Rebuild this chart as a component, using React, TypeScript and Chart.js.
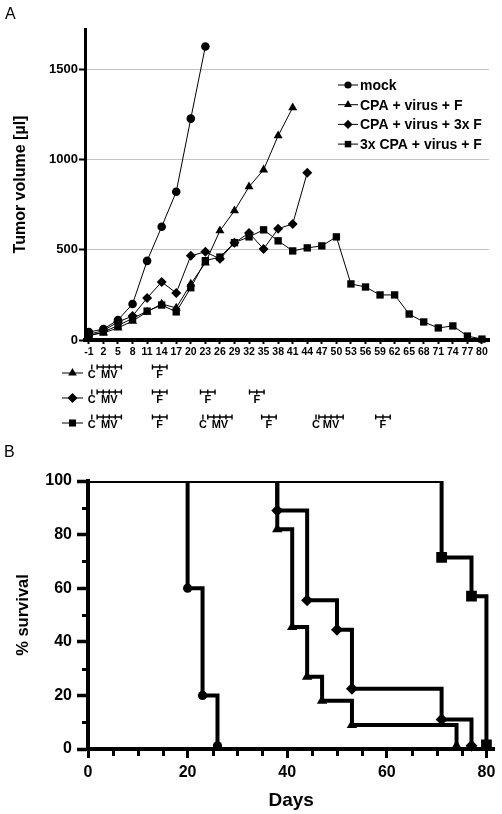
import React, { useEffect, useRef } from 'react';
import { Chart, registerables } from 'chart.js';

Chart.register(...registerables);

const FONT = "'Liberation Sans', Arial, Helvetica, sans-serif";

// ---------- Panel A: tumor volume ----------
const xTickDaysA = [-1, 2, 5, 8, 11, 14, 17, 20, 23, 26, 29, 32, 35, 38, 41, 44, 47, 50, 53, 56, 59, 62, 65, 68, 71, 74, 77, 80];
const yTicksA = [0, 500, 1000, 1500];

const seriesLabels = ['mock', 'CPA + virus + F', 'CPA + virus + 3x F', '3x CPA + virus + F'];
const seriesStyles = ['circle', 'triangle', 'rectRot', 'rect'];

const mockDays = [-1, 2, 5, 8, 11, 14, 17, 20, 23];
const mockVol = [44, 61, 111, 200, 439, 628, 822, 1228, 1628];

const cpaFDays = [-1, 2, 5, 8, 11, 14, 17, 20, 23, 26, 29, 32, 35, 38, 41];
const cpaFVol = [28, 39, 67, 105, 156, 200, 178, 311, 428, 606, 717, 850, 944, 1133, 1289];

const cpa3FDays = [-1, 2, 5, 8, 11, 14, 17, 20, 23, 26, 29, 32, 35, 38, 41, 44];
const cpa3FVol = [32, 52, 100, 133, 233, 322, 261, 467, 489, 450, 539, 594, 505, 617, 644, 928];

const cpa3xDays = [-1, 2, 5, 8, 11, 14, 17, 20, 23, 26, 29, 32, 35, 38, 41, 44, 47, 50, 53, 56, 59, 62, 65, 68, 71, 74, 77, 80];
const cpa3xVol = [22, 45, 80, 120, 160, 194, 156, 290, 440, 460, 540, 572, 611, 550, 494, 511, 522, 572, 311, 294, 250, 250, 144, 100, 67, 78, 22, 5];

// treatment schedule rows (for series 2, 3, 4), days on the panel A axis
const scheduleC = [[-0.4], [-0.4], [-0.4, 22.5, 45.8]];
const scheduleMV = [[0.7], [0.7], [0.7, 23.5, 46.4]];
const scheduleF = [[13.6], [13.6, 23.5, 33.6], [13.6, 36.1, 59.6]];
const mvSpanDays = 5;
const mvDoses = 5;
const fSpanDays = 3;
const fDoses = 3;

// ---------- Panel B: survival ----------
const survXTicks = [0, 5, 10, 15, 20, 25, 30, 35, 40, 45, 50, 55, 60, 65, 70, 75, 80];
const survXLabels = [0, 20, 40, 60, 80];
const survYTicks = [0, 10, 20, 30, 40, 50, 60, 70, 80, 90, 100];
const survYLabels = [0, 20, 40, 60, 80, 100];

const mockSurvDays = [0, 20, 23, 26];
const mockSurv = [100, 60, 20, 1.2];
const cpaFSurvDays = [0, 38, 41, 44, 47, 53, 74];
const cpaFSurv = [100, 82, 45.5, 27, 18, 9, 1.2];
const cpa3FSurvDays = [0, 38, 44, 50, 53, 71, 77];
const cpa3FSurv = [100, 89, 55.5, 44.5, 22.5, 11, 1.2];
const cpa3xSurvDays = [0, 71, 77, 80];
const cpa3xSurv = [100, 71.5, 57, 1.5];

function drawMarker(ctx: any, style: string, x: number, y: number, r: number) {
  ctx.beginPath();
  if (style === 'circle') {
    ctx.arc(x, y, r, 0, Math.PI * 2);
  } else if (style === 'triangle') {
    ctx.moveTo(x, y - r);
    ctx.lineTo(x + r * 0.866, y + r * 0.5);
    ctx.lineTo(x - r * 0.866, y + r * 0.5);
    ctx.closePath();
  } else if (style === 'rectRot') {
    ctx.moveTo(x, y - r);
    ctx.lineTo(x + r, y);
    ctx.lineTo(x, y + r);
    ctx.lineTo(x - r, y);
    ctx.closePath();
  } else {
    const s = r * Math.SQRT1_2;
    ctx.rect(x - s, y - s, 2 * s, 2 * s);
  }
  ctx.fill();
}

const panelAPlugin = {
  id: 'panelAExtras',
  afterDraw(chart: any) {
    const ctx = chart.ctx;
    const xs = chart.scales.x;
    ctx.save();
    ctx.fillStyle = '#000';
    ctx.strokeStyle = '#000';
    // legend
    const legR = [3.6, 4.6, 4.6, 4.6];
    chart.data.datasets.forEach((ds: any, i: number) => {
      const y = 85 + i * 19.7;
      ctx.lineWidth = 1;
      ctx.beginPath();
      ctx.moveTo(338, y);
      ctx.lineTo(358, y);
      ctx.stroke();
      drawMarker(ctx, seriesStyles[i], 348, y, legR[i]);
      ctx.font = `bold 14px ${FONT}`;
      ctx.textBaseline = 'middle';
      ctx.textAlign = 'left';
      ctx.fillText(ds.label, 360, y + 1);
    });
    // schedule rows
    for (let row = 0; row < 3; row++) {
      const yt = 367 + row * 25;
      const ytext = 375 + row * 25;
      const ym = 373 + row * 25;
      ctx.lineWidth = 1;
      ctx.beginPath();
      ctx.moveTo(62, ym);
      ctx.lineTo(83, ym);
      ctx.stroke();
      drawMarker(ctx, seriesStyles[row + 1], 72.5, ym, 5);
      ctx.font = `bold 11px ${FONT}`;
      ctx.textAlign = 'center';
      ctx.textBaseline = 'middle';
      ctx.lineWidth = 1.4;
      scheduleC[row].forEach((d) => {
        const px = xs.getPixelForValue(d);
        ctx.beginPath();
        ctx.moveTo(px, yt - 2.5);
        ctx.lineTo(px, yt + 2.5);
        ctx.stroke();
        ctx.fillText('C', px, ytext);
      });
      const drawBracket = (start: number, span: number, n: number, label: string) => {
        const p0 = xs.getPixelForValue(start);
        const p1 = xs.getPixelForValue(start + span);
        ctx.beginPath();
        ctx.moveTo(p0, yt);
        ctx.lineTo(p1, yt);
        for (let k = 0; k < n; k++) {
          const p = p0 + ((p1 - p0) * k) / (n - 1);
          ctx.moveTo(p, yt - 2.5);
          ctx.lineTo(p, yt + 2.5);
        }
        ctx.stroke();
        ctx.fillText(label, (p0 + p1) / 2, ytext);
      };
      scheduleMV[row].forEach((d) => drawBracket(d, mvSpanDays, mvDoses, 'MV'));
      scheduleF[row].forEach((d) => drawBracket(d - fSpanDays / 2, fSpanDays, fDoses, 'F'));
    }
    ctx.restore();
  },
};

const panelBPlugin = {
  id: 'panelBMinorTicks',
  afterDraw(chart: any) {
    const ctx = chart.ctx;
    const { x, y } = chart.scales;
    const area = chart.chartArea;
    ctx.save();
    ctx.strokeStyle = '#000';
    ctx.lineWidth = 3;
    survXTicks.forEach((v) => {
      if (survXLabels.includes(v)) return;
      const px = Math.round(x.getPixelForValue(v)) + 0.5;
      ctx.beginPath();
      ctx.moveTo(px, area.bottom);
      ctx.lineTo(px, area.bottom + 7);
      ctx.stroke();
    });
    survYTicks.forEach((v) => {
      if (survYLabels.includes(v)) return;
      const py = Math.round(y.getPixelForValue(v)) + 0.5;
      ctx.beginPath();
      ctx.moveTo(area.left, py);
      ctx.lineTo(area.left - 6, py);
      ctx.stroke();
    });
    ctx.restore();
  },
};

export default function App() {
  const refA = useRef<HTMLCanvasElement>(null);
  const refB = useRef<HTMLCanvasElement>(null);

  useEffect(() => {
    const daysA = [mockDays, cpaFDays, cpa3FDays, cpa3xDays];
    const valsA = [mockVol, cpaFVol, cpa3FVol, cpa3xVol];
    const radA = [4.3, 5.2, 5, 5.2];
    const chartA = new Chart(refA.current as HTMLCanvasElement, {
      type: 'line',
      data: {
        datasets: seriesLabels.map((label, i) => ({
          label,
          data: daysA[i].map((d, k) => ({ x: d, y: valsA[i][k] })),
          borderColor: '#000',
          backgroundColor: '#000',
          borderWidth: 1,
          pointStyle: seriesStyles[i] as any,
          pointRadius: radA[i],
          pointBackgroundColor: '#000',
          pointBorderColor: '#000',
          pointBorderWidth: 0,
          tension: 0,
          clip: false as any,
        })),
      },
      options: {
        responsive: false,
        animation: false,
        devicePixelRatio: 1,
        layout: { padding: { left: 0, top: 29, right: 13, bottom: 75 } },
        plugins: { legend: { display: false }, tooltip: { enabled: false } },
        scales: {
          x: {
            type: 'linear',
            min: -1.8,
            max: 81.45,
            afterBuildTicks: (s: any) => {
              s.ticks = xTickDaysA.map((v) => ({ value: v }));
            },
            afterFit: (s: any) => {
              s.height = 25;
            },
            ticks: {
              autoSkip: false,
              maxRotation: 0,
              minRotation: 0,
              padding: 2,
              color: '#000',
              font: { family: FONT, size: 10.5, weight: 'bold' },
              callback: (v: any) => String(v),
            },
            grid: { drawOnChartArea: false, drawTicks: true, tickLength: 4, tickWidth: 2, tickColor: '#000' },
            border: { display: true, color: '#000', width: 4 },
          },
          y: {
            type: 'linear',
            min: 0,
            max: 1725,
            afterBuildTicks: (s: any) => {
              s.ticks = yTicksA.map((v) => ({ value: v }));
            },
            afterFit: (s: any) => {
              s.width = 85;
            },
            ticks: {
              padding: 1,
              color: '#000',
              font: { family: FONT, size: 13, weight: 'bold' },
              callback: (v: any) => String(v),
            },
            grid: {
              color: (c: any) => (c.tick && c.tick.value === 0 ? 'rgba(0,0,0,0)' : '#c4c4c4'),
              lineWidth: 1,
              tickLength: 6,
              tickWidth: 2,
              tickColor: '#000',
            },
            border: { display: true, color: '#000', width: 3 },
            title: {
              display: true,
              text: 'Tumor volume [µl]',
              color: '#000',
              font: { family: FONT, size: 16, weight: 'bold' },
              padding: { top: 11, bottom: 0 },
            },
          },
        },
      } as any,
      plugins: [panelAPlugin],
    });

    const daysB = [mockSurvDays, cpaFSurvDays, cpa3FSurvDays, cpa3xSurvDays];
    const valsB = [mockSurv, cpaFSurv, cpa3FSurv, cpa3xSurv];
    const radB = [4.6, 6, 6, 7.6];
    const chartB = new Chart(refB.current as HTMLCanvasElement, {
      type: 'line',
      data: {
        datasets: seriesLabels.map((label, i) => ({
          label,
          data: daysB[i].map((d, k) => ({ x: d, y: valsB[i][k] })),
          stepped: 'before',
          borderColor: '#000',
          backgroundColor: '#000',
          borderWidth: 4,
          borderCapStyle: 'butt',
          borderJoinStyle: 'miter',
          pointStyle: seriesStyles[i] as any,
          pointRadius: (c: any) => (c.dataIndex === 0 ? 0 : radB[i]),
          pointBackgroundColor: '#000',
          pointBorderColor: '#000',
          pointBorderWidth: 0,
          clip: { left: 0, top: 0, right: 10, bottom: 10 } as any,
        })),
      },
      options: {
        responsive: false,
        animation: false,
        devicePixelRatio: 1,
        layout: { padding: { left: 0, top: 41, right: 6, bottom: 0 } },
        plugins: { legend: { display: false }, tooltip: { enabled: false } },
        scales: {
          x: {
            type: 'linear',
            min: 0,
            max: 81.6,
            afterBuildTicks: (s: any) => {
              s.ticks = survXTicks.map((v) => ({ value: v }));
            },
            afterFit: (s: any) => {
              s.height = 65;
            },
            ticks: {
              autoSkip: false,
              maxRotation: 0,
              minRotation: 0,
              padding: 5,
              color: '#000',
              font: { family: FONT, size: 16, weight: 'bold' },
              callback: (v: any) => (survXLabels.includes(v) ? String(v) : ''),
            },
            grid: {
              drawOnChartArea: false,
              drawTicks: true,
              tickLength: 9,
              tickWidth: 3,
              tickColor: (c: any) => (c.tick && survXLabels.includes(c.tick.value) ? '#000' : 'rgba(0,0,0,0)'),
            },
            border: { display: true, color: '#000', width: 4 },
            title: {
              display: true,
              text: 'Days',
              color: '#000',
              font: { family: FONT, size: 19, weight: 'bold' },
              padding: { top: 0, bottom: 1.5 },
            },
          },
          y: {
            type: 'linear',
            min: 0,
            max: 100,
            afterBuildTicks: (s: any) => {
              s.ticks = survYTicks.map((v) => ({ value: v }));
            },
            afterFit: (s: any) => {
              s.width = 88;
            },
            ticks: {
              padding: 5,
              color: '#000',
              font: { family: FONT, size: 16, weight: 'bold' },
              callback: (v: any) => (survYLabels.includes(v) ? String(v) : ''),
            },
            grid: {
              drawOnChartArea: false,
              drawTicks: true,
              tickLength: 11,
              tickWidth: 3.5,
              tickColor: (c: any) => (c.tick && survYLabels.includes(c.tick.value) ? '#000' : 'rgba(0,0,0,0)'),
            },
            border: { display: true, color: '#000', width: 4 },
            title: {
              display: true,
              text: '% survival',
              color: '#000',
              font: { family: FONT, size: 16.5, weight: 'bold' },
              padding: { top: 14, bottom: 0 },
            },
          },
        },
      } as any,
      plugins: [panelBPlugin],
    });

    return () => {
      chartA.destroy();
      chartB.destroy();
    };
  }, []);

  const labelStyle: React.CSSProperties = {
    position: 'absolute',
    fontFamily: FONT,
    fontSize: 16,
    lineHeight: '18px',
    color: '#000',
  };

  return (
    <div style={{ position: 'absolute', left: 0, top: 0, width: 502, height: 814, background: '#fff' }}>
      <canvas ref={refA} width={502} height={440} style={{ position: 'absolute', left: 0, top: 0, width: 502, height: 440 }} />
      <canvas ref={refB} width={502} height={374} style={{ position: 'absolute', left: 0, top: 440, width: 502, height: 374 }} />
      <div style={{ ...labelStyle, left: 5, top: 5 }}>A</div>
      <div style={{ ...labelStyle, left: 4, top: 443 }}>B</div>
    </div>
  );
}
